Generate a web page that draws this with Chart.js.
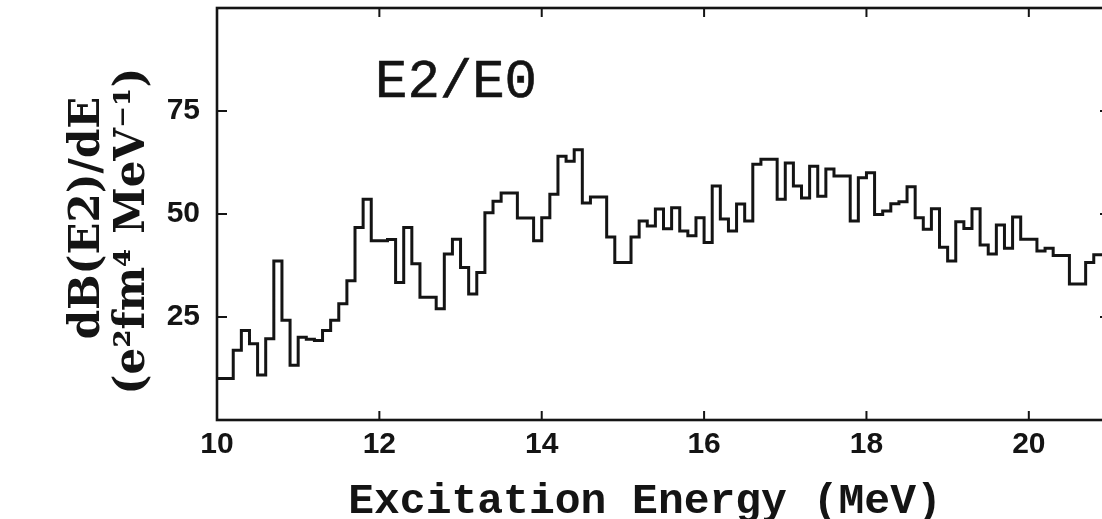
<!DOCTYPE html>
<html>
<head>
<meta charset="utf-8">
<script src="https://cdn.jsdelivr.net/npm/chart.js@4.4.1/dist/chart.umd.min.js"></script>
<style>
  html, body { margin: 0; padding: 0; background: #ffffff; overflow: hidden; }
  #wrap { position: relative; width: 1116px; height: 519px; }
  #c { filter: blur(0.5px); }
</style>
</head>
<body>
<div id="wrap"><canvas id="c"></canvas></div>
<script>
// E2/E0 strength distribution, 100 keV bins starting at 10 MeV
const binStart = 10.0;
const binWidth = 0.1;
const strength = [
  10.1, 10.1, 16.9, 21.7, 18.5, 10.9, 19.7, 38.6, 24.2, 13.3,
  20.1, 19.6, 19.3, 21.7, 24.2, 28.2, 33.8, 46.7, 53.6, 43.5,
  43.5, 43.8, 33.4, 46.7, 37.9, 29.8, 29.8, 27.0, 40.3, 43.9,
  37.0, 30.6, 35.8, 50.3, 53.1, 55.1, 55.1, 49.0, 49.0, 43.5,
  49.1, 54.8, 64.0, 62.8, 65.6, 52.7, 54.1, 54.1, 44.4, 38.2,
  38.2, 44.4, 48.3, 47.1, 51.2, 46.4, 51.5, 45.9, 44.7, 49.1,
  43.1, 56.8, 48.8, 45.9, 52.4, 48.3, 62.1, 63.3, 63.3, 53.6,
  62.4, 56.8, 53.9, 61.6, 54.3, 60.9, 59.2, 59.2, 48.3, 58.8,
  60.0, 49.9, 50.7, 52.5, 53.0, 56.6, 49.1, 46.3, 51.3, 41.9,
  38.6, 48.1, 46.5, 51.3, 42.5, 40.3, 47.3, 41.7, 49.3, 43.9,
  43.9, 41.0, 41.7, 39.9, 39.9, 33.0, 33.0, 38.2, 40.1, 40.1
];
const xTickValues = [10, 12, 14, 16, 18, 20];
const yTickValues = [25, 50, 75];
const xRange = [10, 21];
const yRange = [0, 100];
const panelLabel = 'E2/E0';
const xTitle = 'Excitation Energy (MeV)';
const yTitleLines = ['dB(E2)/dE', '(e\u00B2fm\u2074 MeV\u207B\u00B9)'];

const ink = '#141414';

// step outline: each bin's value holds from its lower edge to the next edge
const stepPoints = strength.map((v, i) => ({ x: +(binStart + i * binWidth).toFixed(2), y: v }));
stepPoints.push({ x: +(binStart + strength.length * binWidth).toFixed(2), y: strength[strength.length - 1] });

const framePlugin = {
  id: 'frameAndLabels',
  afterDraw(chart) {
    const { ctx, chartArea: a, scales: { x, y } } = chart;
    ctx.save();
    ctx.strokeStyle = ink;
    ctx.lineWidth = 2.6;
    ctx.lineCap = 'butt';
    ctx.strokeRect(a.left, a.top, a.right - a.left, a.bottom - a.top);

    // inward tick marks on all four sides
    ctx.lineWidth = 2;
    ctx.beginPath();
    xTickValues.forEach(v => {
      const px = x.getPixelForValue(v);
      ctx.moveTo(px, a.bottom); ctx.lineTo(px, a.bottom - 9);
      ctx.moveTo(px, a.top);    ctx.lineTo(px, a.top + 9);
    });
    yTickValues.forEach(v => {
      const py = y.getPixelForValue(v);
      ctx.moveTo(a.left, py);  ctx.lineTo(a.left + 10, py);
      ctx.moveTo(a.right, py); ctx.lineTo(a.right - 10, py);
    });
    ctx.stroke();

    ctx.fillStyle = ink;
    // panel label (typewriter face, lightly thickened)
    ctx.font = '54px "Liberation Mono", "DejaVu Sans Mono", monospace';
    ctx.textAlign = 'left';
    ctx.textBaseline = 'alphabetic';
    ctx.lineWidth = 0.6;
    ctx.fillText(panelLabel, a.left + 158, a.top + 89);
    ctx.strokeText(panelLabel, a.left + 158, a.top + 89);

    // x axis title
    ctx.font = 'bold 43px "Liberation Mono", "DejaVu Sans Mono", monospace';
    ctx.textAlign = 'center';
    ctx.fillText(xTitle, 645, 513);

    // y axis title, two rotated lines
    ctx.font = 'bold 42px "DejaVu Serif", "Liberation Serif", serif';
    ctx.textBaseline = 'middle';
    const lineX = [88, 133];
    const lineY = [218, 231];
    yTitleLines.forEach((t, i) => {
      ctx.save();
      ctx.translate(lineX[i], lineY[i]);
      ctx.rotate(-Math.PI / 2);
      ctx.fillText(t, 0, 0);
      ctx.restore();
    });
    ctx.restore();
  }
};

new Chart(document.getElementById('c'), {
  type: 'line',
  data: {
    datasets: [{
      data: stepPoints,
      stepped: true,
      borderColor: ink,
      borderWidth: 3,
      pointRadius: 0,
      fill: false
    }]
  },
  options: {
    responsive: true,
    maintainAspectRatio: false,
    animation: false,
    events: [],
    layout: { padding: { left: 0, top: 8, right: 6, bottom: 0 } },
    plugins: { legend: { display: false }, tooltip: { enabled: false } },
    scales: {
      x: {
        type: 'linear',
        min: xRange[0],
        max: xRange[1],
        grid: { display: false, drawTicks: false },
        border: { display: false },
        afterBuildTicks: s => { s.ticks = xTickValues.map(v => ({ value: v })); },
        afterFit: s => { s.height = 99; s.paddingLeft = 0; s.paddingRight = 0; },
        ticks: {
          color: ink,
          padding: 7,
          maxRotation: 0,
          font: { family: '"Liberation Sans", Arial, sans-serif', size: 30, weight: 'bold' }
        }
      },
      y: {
        min: yRange[0],
        max: yRange[1],
        grid: { display: false, drawTicks: false },
        border: { display: false },
        afterBuildTicks: s => { s.ticks = yTickValues.map(v => ({ value: v })); },
        afterFit: s => { s.width = 217; s.paddingTop = 0; s.paddingBottom = 0; },
        ticks: {
          color: ink,
          padding: 17,
          font: { family: '"Liberation Sans", Arial, sans-serif', size: 30, weight: 'bold' }
        }
      }
    }
  },
  plugins: [framePlugin]
});
</script>
</body>
</html>
